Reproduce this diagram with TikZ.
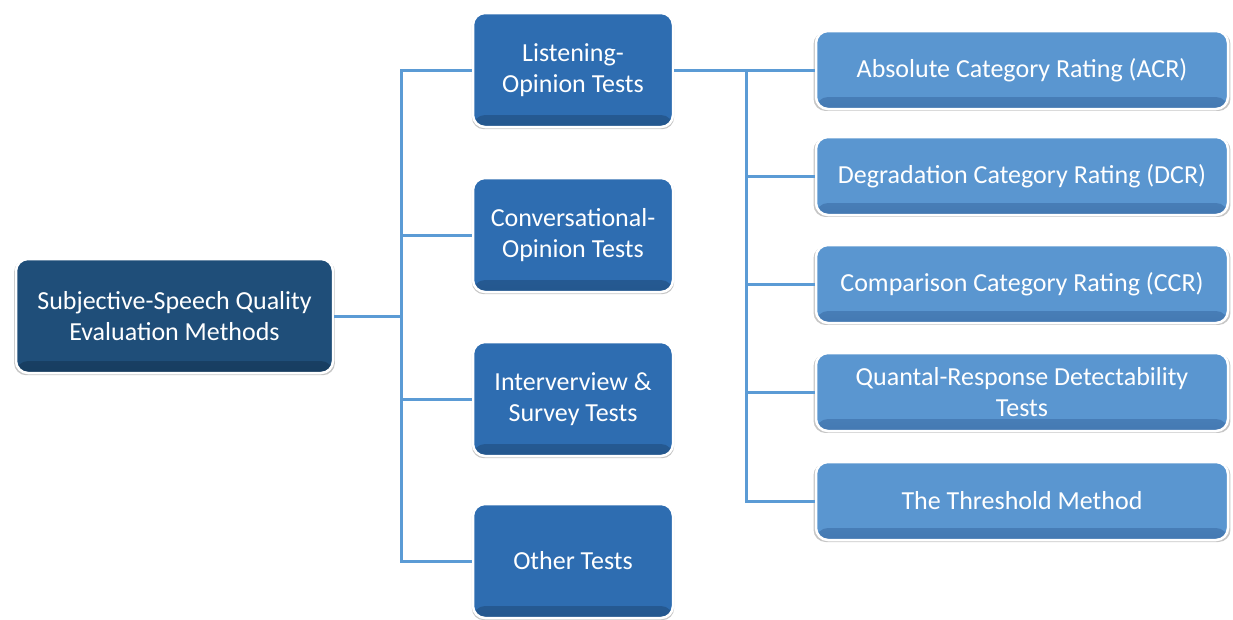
\documentclass[tikz,border=0pt]{standalone}
\usepackage{fontspec}
\setmainfont{Carlito}
\usetikzlibrary{shadows}
\definecolor{rootblue}{HTML}{1F4E79}
\definecolor{rootdark}{HTML}{173D60}
\definecolor{midblue}{HTML}{2E6DB1}
\definecolor{middark}{HTML}{24578E}
\definecolor{leafblue}{HTML}{5A96D0}
\definecolor{leafdark}{HTML}{4479B2}
\definecolor{wire}{HTML}{5B9BD5}
\tikzset{
  box/.style 2 args={rounded corners=12pt, draw=white, line width=2.5pt, text=white,
    align=center, inner sep=0pt, font=\fontsize{26}{31}\selectfont, fill=#1,
    path picture={
      \shade[top color=#1, bottom color=#2]
        (path picture bounding box.south west) rectangle
        ([yshift=12pt]path picture bounding box.south east);},
    drop shadow={shadow xshift=0pt, shadow yshift=-1.5pt, shadow scale=1.012,
      opacity=0.45, fill=gray}},
  rootbox/.style={box={rootblue}{rootdark}, minimum width=317pt, minimum height=114pt},
  midbox/.style={box={midblue}{middark}, minimum width=200pt, minimum height=114pt},
  leafbox/.style={box={leafblue}{leafdark}, minimum width=412pt, minimum height=78pt},
  link/.style={draw=wire, line width=3pt}
}
\begin{document}
\begin{tikzpicture}[x=1pt, y=-1pt]
  \useasboundingbox (0,0) rectangle (1233,619);

  % root
  \node[rootbox] (root) at (174.5,316) {Subjective-Speech Quality\\Evaluation Methods};

  % test families
  \node[midbox] (listen) at (573,70)  {Listening-\\Opinion Tests};
  \node[midbox] (conv)   at (573,235) {Conversational-\\Opinion Tests};
  \node[midbox] (survey) at (573,399) {Interverview \&\\Survey Tests};
  \node[midbox] (other)  at (573,561) {Other Tests};

  % listening-opinion methods
  \node[leafbox] (acr) at (1022,70)  {Absolute Category Rating (ACR)};
  \node[leafbox] (dcr) at (1022,176) {Degradation Category Rating (DCR)};
  \node[leafbox] (ccr) at (1022,284) {Comparison Category Rating (CCR)};
  \node[leafbox] (qrd) at (1022,392) {Quantal-Response Detectability\\Tests};
  \node[leafbox] (thr) at (1022,501) {The Threshold Method};

  % trunk from root to the test families
  \coordinate (j1) at (401,316);
  \draw[link] (root.east) -- (j1);
  \draw[link] (listen.west) -- (listen.west -| j1) -- (other.west -| j1) -- (other.west);
  \draw[link] (conv.west -| j1) -- (conv.west);
  \draw[link] (survey.west -| j1) -- (survey.west);

  % trunk from listening-opinion tests to its methods
  \coordinate (j2) at (746,70);
  \draw[link] (listen.east) -- (j2) -- (thr.west -| j2) -- (thr.west);
  \draw[link] (j2) -- (acr.west);
  \draw[link] (dcr.west -| j2) -- (dcr.west);
  \draw[link] (ccr.west -| j2) -- (ccr.west);
  \draw[link] (qrd.west -| j2) -- (qrd.west);
\end{tikzpicture}
\end{document}
